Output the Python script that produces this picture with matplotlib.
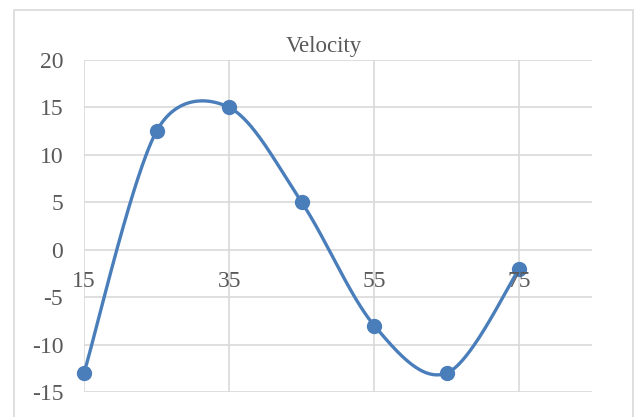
import numpy as np
import matplotlib.pyplot as plt
from matplotlib.patches import Rectangle
from matplotlib.transforms import offset_copy

# Velocity samples
time = [15, 25, 35, 45, 55, 65, 75]
velocity = [-13, 12.5, 15, 5, -8, -13, -2]
x_ticks = [15, 35, 55, 75]
y_ticks = [-15, -10, -5, 0, 5, 10, 15, 20]

BLUE = '#4a7ebb'
GRID = '#d9d9d9'
TEXT = '#595959'

plt.rcParams['font.family'] = ['Liberation Serif', 'DejaVu Serif']
plt.rcParams['axes.unicode_minus'] = False

fig = plt.figure(figsize=(6.35, 4.17), dpi=100)
ax = fig.add_axes([84 / 635, 25 / 417, 508 / 635, 332 / 417])
ax.set_xlim(15, 85)
ax.set_ylim(-15, 20)

# chart frame
fig.patches.append(Rectangle((14 / 635, -0.1), 619 / 635, 1.1 - 10 / 417,
                             transform=fig.transFigure, fill=False,
                             edgecolor=GRID, lw=1.2))

for s in ax.spines.values():
    s.set_visible(False)
ax.set_xticks(x_ticks)
ax.set_yticks(y_ticks)
ax.grid(True, color=GRID, lw=1.2)
ax.tick_params(length=0, labelsize=17, labelcolor=TEXT)
ax.tick_params(axis='y', pad=15)
ax.set_xticklabels([])


def handle(a, b, seg_len):
    # tangent handle of 1/6 the neighbour span, capped at half the segment
    h = (b - a) / 6.0
    L = np.hypot(*h)
    if L > 0.5 * seg_len and L > 0:
        h = h * (0.5 * seg_len / L)
    return h


# smoothed line: bezier segments built in display space
pts = ax.transData.transform(np.column_stack([time, velocity]))
n = len(pts)
curve = []
for i in range(n - 1):
    p0 = pts[max(i - 1, 0)]
    p1 = pts[i]
    p2 = pts[i + 1]
    p3 = pts[min(i + 2, n - 1)]
    d12 = np.hypot(*(p2 - p1))
    c1 = p1 + handle(p0, p2, d12)
    c2 = p2 - handle(p1, p3, d12)
    s = np.linspace(0, 1, 60)[:, None]
    seg = ((1 - s) ** 3 * p1 + 3 * (1 - s) ** 2 * s * c1
           + 3 * (1 - s) * s ** 2 * c2 + s ** 3 * p2)
    curve.append(seg if i == 0 else seg[1:])
curve = ax.transData.inverted().transform(np.vstack(curve))

ax.plot(curve[:, 0], curve[:, 1], color=BLUE, lw=2.4, solid_capstyle='round',
        zorder=3, clip_on=False)
ax.plot(time, velocity, 'o', color=BLUE, ms=10, zorder=4, clip_on=False)

# category labels sit just under the zero line
lab_tr = offset_copy(ax.transData, fig=fig, y=-27, units='points')
for xt in x_ticks:
    ax.text(xt, 0, str(xt), transform=lab_tr, ha='center', va='baseline',
            fontsize=17, color=TEXT, zorder=5)

fig.text(324 / 635, 1 - 52 / 417, 'Velocity', ha='center', va='baseline',
         fontsize=16.5, color=TEXT)

fig.savefig('out.png', dpi=100)
